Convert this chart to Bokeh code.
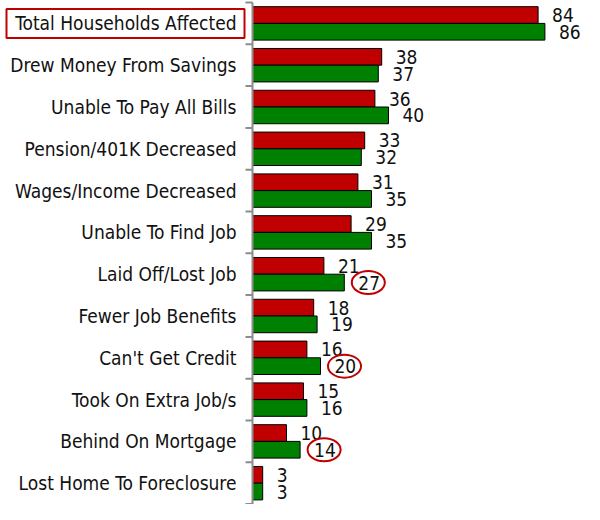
from bokeh.plotting import figure
from bokeh.models import Range1d, ColumnDataSource
from bokeh.core.properties import value
from bokeh.embed import file_html
from bokeh.resources import INLINE

categories = ["Total Households Affected", "Drew Money From Savings", "Unable To Pay All Bills",
              "Pension/401K Decreased", "Wages/Income Decreased", "Unable To Find Job",
              "Laid Off/Lost Job", "Fewer Job Benefits", "Can't Get Credit",
              "Took On Extra Job/s", "Behind On Mortgage", "Lost Home To Foreclosure"]
red_values = [84, 38, 36, 33, 31, 29, 21, 18, 16, 15, 10, 3]
green_values = [86, 37, 40, 32, 35, 35, 27, 19, 20, 16, 14, 3]
circled = ["Laid Off/Lost Job", "Can't Get Credit", "Behind On Mortgage"]
boxed = ["Total Households Affected"]

FONT = "DejaVu Sans Condensed"
W, H = 584, 504
AXIS_PX = 252
SCALE = 3.4
BAND = 41.8
TOP_PX = 2
LBL_OFF = 14

x_start = -AXIS_PX / SCALE
x_end = (W - AXIS_PX) / SCALE
y_end = -0.5 - TOP_PX / BAND
y_start = y_end + H / BAND

p = figure(width=W, height=H, x_range=Range1d(x_start, x_end),
           y_range=Range1d(start=y_start, end=y_end),
           output_backend="svg", toolbar_location=None,
           x_axis_location=None, y_axis_location=None, min_border=0)
p.grid.visible = False
p.outline_line_color = None
p.background_fill_color = "white"

idx = list(range(len(categories)))
red_y = [i - 0.2 for i in idx]
green_y = [i + 0.2 for i in idx]

src_r = ColumnDataSource(dict(y=red_y, v=red_values, t=[str(v) for v in red_values]))
src_g = ColumnDataSource(dict(y=green_y, v=green_values, t=[str(v) for v in green_values]))

p.hbar(y="y", left=0, right="v", height=0.4, source=src_r,
       fill_color="#C00000", line_color="black", line_width=1)
p.hbar(y="y", left=0, right="v", height=0.4, source=src_g,
       fill_color="#008000", line_color="black", line_width=1)

for src in (src_r, src_g):
    p.text(x="v", y="y", text="t", source=src, x_offset=LBL_OFF, text_align="left",
           text_baseline="middle", text_font=value(FONT), text_font_size="19px",
           text_color="#111111")

# category labels
p.text(x=[0] * len(idx), y=idx, text=categories, x_offset=-16, text_align="right",
       text_baseline="middle", text_font=value(FONT), text_font_size="19px",
       text_color="#111111")

# axis line and boundary ticks
tops = [i - 0.5 for i in range(len(categories) + 1)]
p.segment(x0=[0], y0=[tops[0]], x1=[0], y1=[tops[-1]], line_color="#8c8c8c", line_width=2)
p.segment(x0=[-7 / SCALE] * len(tops), y0=tops, x1=[0] * len(tops), y1=tops,
          line_color="#8c8c8c", line_width=2)

# box around highlighted category
bi = [categories.index(c) for c in boxed]
p.quad(left=[-(8 + 238) / SCALE for _ in bi], right=[-8 / SCALE for _ in bi],
       top=[i - 14.5 / BAND for i in bi], bottom=[i + 14.5 / BAND for i in bi],
       fill_color=None, line_color="#C00000", line_width=2)

# ellipses around highlighted green values
ci = [categories.index(c) for c in circled]
p.ellipse(x=[green_values[i] + (LBL_OFF + 10) / SCALE for i in ci], y=[i + 0.2 for i in ci],
          width=33, height=23, width_units="screen", height_units="screen",
          fill_color=None, line_color="#C00000", line_width=2)

open("out.html", "w").write(file_html(p, INLINE))
